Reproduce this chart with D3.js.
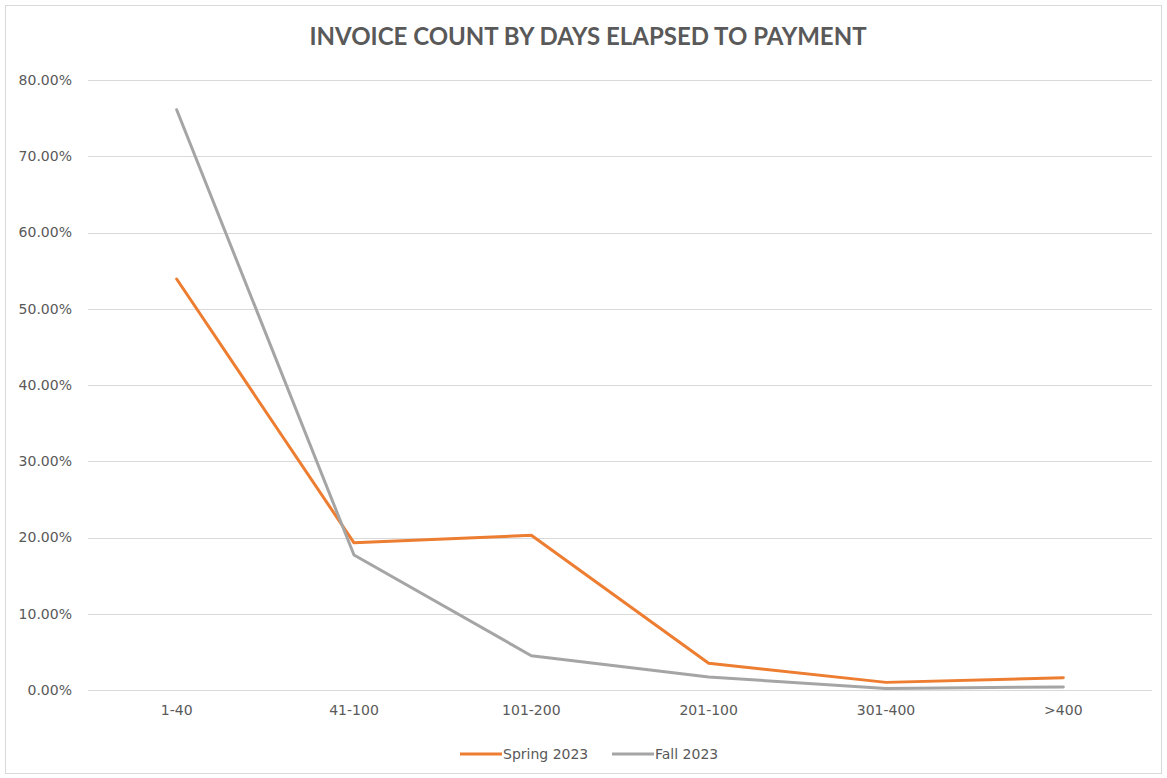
<!DOCTYPE html>
<html>
<head>
<meta charset="utf-8">
<script src="https://cdn.jsdelivr.net/npm/d3@7"></script>
<style>
  body { margin: 0; background: #fff; }
  svg { display: block; font-family: "DejaVu Sans", sans-serif; }
</style>
</head>
<body>
<div id="chart"></div>
<script>
const categories = ["1-40", "41-100", "101-200", "201-100", "301-400", ">400"];
const spring2023 = [0.539, 0.193, 0.203, 0.035, 0.010, 0.016];
const fall2023 = [0.761, 0.177, 0.045, 0.017, 0.002, 0.004];
const yTicks = [0, 0.1, 0.2, 0.3, 0.4, 0.5, 0.6, 0.7, 0.8];

const series = [
  { name: "Spring 2023", values: spring2023, color: "#ED7D31" },
  { name: "Fall 2023", values: fall2023, color: "#A5A5A5" }
];

const width = 1167, height = 778;
const margin = { top: 80, right: 15, left: 88 };

const svg = d3.select("#chart").append("svg")
  .attr("width", width)
  .attr("height", height);

// chart frame
svg.append("rect")
  .attr("x", 5.5).attr("y", 5.5)
  .attr("width", width - 11).attr("height", height - 10)
  .attr("fill", "#fff")
  .attr("stroke", "#d9d9d9");

svg.append("text")
  .attr("x", 588).attr("y", 45)
  .attr("text-anchor", "middle")
  .attr("font-family", "Lato, sans-serif")
  .attr("font-size", 24)
  .attr("font-weight", "bold")
  .attr("fill", "#595959")
  .text("INVOICE COUNT BY DAYS ELAPSED TO PAYMENT");

const x = d3.scaleBand()
  .domain(categories)
  .range([margin.left, width - margin.right]);

const y = d3.scaleLinear()
  .domain([0, 0.8])
  .range([690, margin.top]);

// gridlines
svg.append("g")
  .selectAll("line")
  .data(yTicks)
  .join("line")
  .attr("x1", margin.left).attr("x2", width - margin.right)
  .attr("y1", d => Math.round(y(d)) + 0.5).attr("y2", d => Math.round(y(d)) + 0.5)
  .attr("stroke", "#d9d9d9")
  .attr("stroke-width", 1);

// y axis labels
const yAxis = svg.append("g")
  .attr("transform", `translate(${margin.left - 16},0)`)
  .call(d3.axisLeft(y).tickValues(yTicks).tickFormat(d3.format(".2%")).tickSize(0).tickPadding(0))
yAxis.select(".domain").remove();
yAxis.selectAll("text")
  .attr("font-size", 14)
  .attr("font-family", "DejaVu Sans, sans-serif")
  .attr("fill", "#595959");

// x axis labels
const xAxis = svg.append("g")
  .attr("transform", `translate(0,${y(0) + 15})`)
  .call(d3.axisBottom(x).tickSize(0).tickPadding(0));
xAxis.select(".domain").remove();
xAxis.selectAll("text")
  .attr("font-size", 14)
  .attr("font-family", "DejaVu Sans, sans-serif")
  .attr("fill", "#595959");

const line = d3.line()
  .x((d, i) => x(categories[i]) + x.bandwidth() / 2)
  .y(d => y(d));

svg.append("g")
  .selectAll("path")
  .data(series)
  .join("path")
  .attr("d", d => line(d.values))
  .attr("fill", "none")
  .attr("stroke", d => d.color)
  .attr("stroke-width", 3)
  .attr("stroke-linejoin", "round")
  .attr("stroke-linecap", "round");

// legend
const legend = svg.append("g")
  .attr("transform", "translate(460,754)");
const item = legend.selectAll("g")
  .data(series)
  .join("g")
  .attr("transform", (d, i) => `translate(${i * 152},0)`);
item.append("line")
  .attr("x1", 0).attr("x2", 42)
  .attr("stroke", d => d.color)
  .attr("stroke-width", 3);
item.append("text")
  .attr("x", 43).attr("y", 5)
  .attr("font-size", 14)
  .attr("fill", "#595959")
  .text(d => d.name);
</script>
</body>
</html>
